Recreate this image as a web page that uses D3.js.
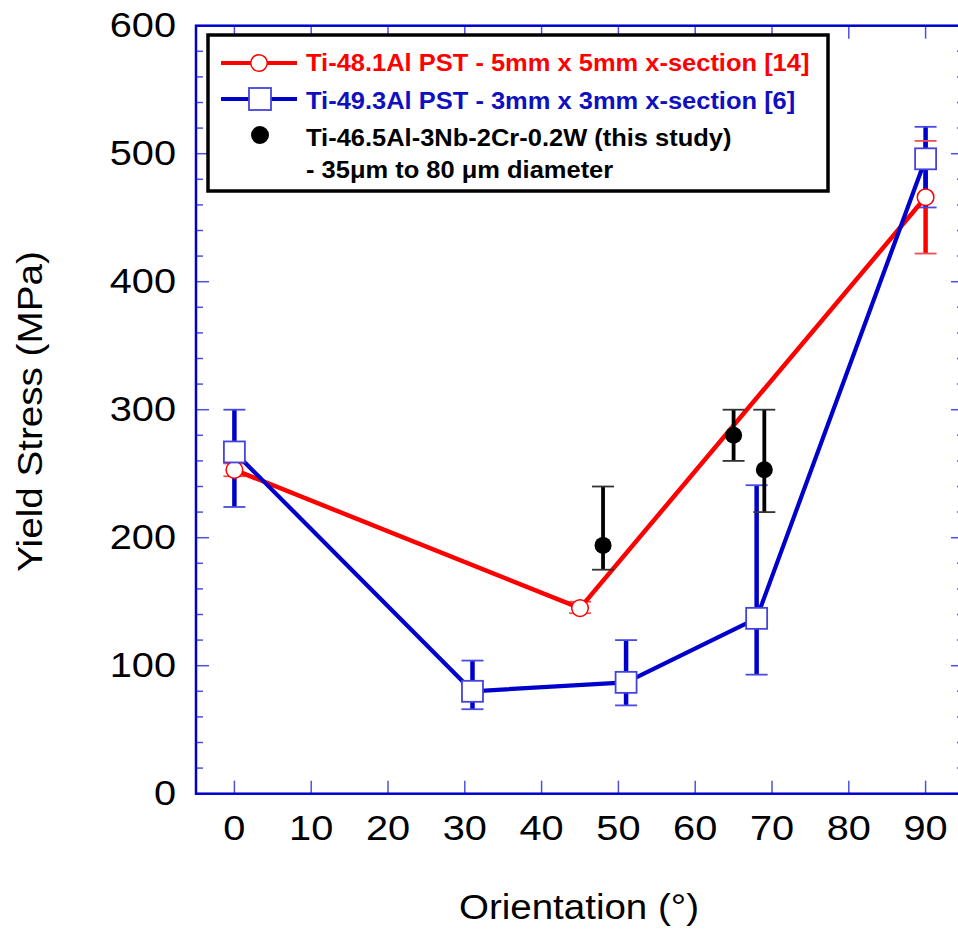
<!DOCTYPE html>
<html>
<head>
<meta charset="utf-8">
<script src="https://cdn.jsdelivr.net/npm/d3@7"></script>
<style>
html,body{margin:0;padding:0;background:#fff;}
svg{display:block;}
text{font-family:"Liberation Sans",Arial,Helvetica,sans-serif;}
</style>
</head>
<body>
<svg id="chart" width="958" height="930"></svg>
<script>
// ---------- data ----------
const xTickValues = [0,10,20,30,40,50,60,70,80,90];
const yTickValues = [0,100,200,300,400,500,600];
const yMinorValues = d3.range(0, 601, 20);

const redX  = [0, 45, 90];
const redY  = [253, 145, 466];
const redLo = [248, 141, 422];
const redHi = [258, 150, 510];

const blueX  = [0, 31, 51, 68, 90];
const blueY  = [267, 80, 87, 137, 496];
const blueLo = [224, 66, 69, 93, 458];
const blueHi = [300, 104, 120, 241, 521];

const blackX  = [48, 65, 69];
const blackY  = [194, 280, 253];
const blackLo = [175, 260, 220];
const blackHi = [240, 300, 300];

const legendLabels = [
  "Ti-48.1Al PST - 5mm x 5mm x-section [14]",
  "Ti-49.3Al PST - 3mm x 3mm x-section [6]",
  "Ti-46.5Al-3Nb-2Cr-0.2W (this study)",
  "- 35\u03bcm to 80 \u03bcm diameter"
];
const xTitle = "Orientation (\u00b0)";
const yTitle = "Yield Stress (MPa)";

// ---------- setup ----------
const RED = "#ff0000", BLUE = "#0000cc", TICK = "#5050dd";
const svg = d3.select("#chart");
const x = d3.scaleLinear().domain([-5, 95]).range([196, 964]);
const y = d3.scaleLinear().domain([0, 600]).range([793.7, 25.7]);

const zip = (xs, ys, lo, hi) => xs.map((v, i) => ({x: v, y: ys[i], lo: lo ? lo[i] : null, hi: hi ? hi[i] : null}));
const red = zip(redX, redY, redLo, redHi);
const blue = zip(blueX, blueY, blueLo, blueHi);
const black = zip(blackX, blackY, blackLo, blackHi);

// ---------- axes ticks ----------
const g = svg.append("g");
g.selectAll(".lmin").data(yMinorValues).join("line")
  .attr("x1", x(-5)).attr("x2", d => x(-5) + (d % 100 === 0 ? 13 : 7))
  .attr("y1", d => y(d)).attr("y2", d => y(d))
  .attr("stroke", TICK).attr("stroke-width", 1.5);
g.selectAll(".rmin").data(yMinorValues).join("line")
  .attr("x1", x(95)).attr("x2", d => x(95) - (d % 100 === 0 ? 13 : 7))
  .attr("y1", d => y(d)).attr("y2", d => y(d))
  .attr("stroke", TICK).attr("stroke-width", 1.5);
g.selectAll(".bt").data(xTickValues).join("line")
  .attr("x1", d => x(d)).attr("x2", d => x(d))
  .attr("y1", y(0)).attr("y2", y(0) - 13)
  .attr("stroke", TICK).attr("stroke-width", 1.5);
g.selectAll(".tt").data(xTickValues).join("line")
  .attr("x1", d => x(d)).attr("x2", d => x(d))
  .attr("y1", y(600)).attr("y2", y(600) + 13)
  .attr("stroke", TICK).attr("stroke-width", 1.5);
g.append("rect").attr("x", x(-5)).attr("y", y(600))
  .attr("width", x(95) - x(-5)).attr("height", y(0) - y(600))
  .attr("fill", "none").attr("stroke", BLUE).attr("stroke-width", 2.5);

// tick labels
const yl = svg.append("g").selectAll("g").data(yTickValues).join("g")
  .attr("transform", d => `translate(176,${y(d) + 11.5}) scale(1.12,1)`);
yl.append("text").attr("text-anchor", "end").attr("font-size", 35.5).attr("fill", "#000").text(d => d);
const xl = svg.append("g").selectAll("g").data(xTickValues).join("g")
  .attr("transform", d => `translate(${x(d)},840) scale(1.12,1)`);
xl.append("text").attr("text-anchor", "middle").attr("font-size", 35.5).attr("fill", "#000").text(d => d);

// titles
svg.append("g").attr("transform", "translate(579,919) scale(1.085,1)")
  .append("text").attr("text-anchor", "middle").attr("font-size", 35.5).text(xTitle);
svg.append("g").attr("transform", "translate(42,411.5) rotate(-90) scale(1.12,1)")
  .append("text").attr("text-anchor", "middle").attr("font-size", 34.5).text(yTitle);

// ---------- error bars ----------
function errBars(data, color, bw) {
  svg.append("g").selectAll("line").data(data).join("line")
    .attr("x1", d => x(d.x)).attr("x2", d => x(d.x))
    .attr("y1", d => y(d.lo)).attr("y2", d => y(d.hi))
    .attr("stroke", color).attr("stroke-width", bw);
}
function caps(data, capColor) {
  const cg = svg.append("g");
  ["lo", "hi"].forEach(k => {
    cg.selectAll("line." + k).data(data).join("line").attr("class", k)
      .attr("x1", d => x(d.x) - 11).attr("x2", d => x(d.x) + 11)
      .attr("y1", d => y(d[k])).attr("y2", d => y(d[k]))
      .attr("stroke", capColor).attr("stroke-width", 1.8);
  });
}
errBars(red, RED, 4.5);
errBars(blue, BLUE, 4.5);
caps(red, "#f05050");
caps(blue, "#4a4ae0");

// ---------- lines ----------
const line = d3.line().x(d => x(d.x)).y(d => y(d.y));
svg.append("path").datum(red).attr("d", line).attr("fill", "none")
  .attr("stroke", RED).attr("stroke-width", 4.5).attr("stroke-linejoin", "round");
svg.append("path").datum(blue).attr("d", line).attr("fill", "none")
  .attr("stroke", BLUE).attr("stroke-width", 4.2).attr("stroke-linejoin", "round");

// ---------- markers ----------
svg.append("g").selectAll("circle").data(red).join("circle")
  .attr("cx", d => x(d.x)).attr("cy", d => y(d.y)).attr("r", 8.3)
  .attr("fill", "#fff").attr("stroke", RED).attr("stroke-width", 1.5);
svg.append("g").selectAll("rect").data(blue).join("rect")
  .attr("x", d => x(d.x) - 10.5).attr("y", d => y(d.y) - 10.5)
  .attr("width", 21).attr("height", 21)
  .attr("fill", "#fff").attr("stroke", "#4444dd").attr("stroke-width", 1.8);

// black (this study)
errBars(black, "#000", 3.8);
caps(black, "#333");
svg.append("g").selectAll("circle").data(black).join("circle")
  .attr("cx", d => x(d.x)).attr("cy", d => y(d.y)).attr("r", 8.5)
  .attr("fill", "#000");

// ---------- legend ----------
const lg = svg.append("g");
lg.append("rect").attr("x", 208).attr("y", 35).attr("width", 620).attr("height", 156)
  .attr("fill", "#fff").attr("stroke", "#000").attr("stroke-width", 3.5);
lg.append("line").attr("x1", 221).attr("x2", 297).attr("y1", 63).attr("y2", 63)
  .attr("stroke", RED).attr("stroke-width", 4);
lg.append("circle").attr("cx", 259).attr("cy", 63).attr("r", 8.3)
  .attr("fill", "#fff").attr("stroke", RED).attr("stroke-width", 1.5);
lg.append("line").attr("x1", 221).attr("x2", 297).attr("y1", 99).attr("y2", 99)
  .attr("stroke", BLUE).attr("stroke-width", 4);
lg.append("rect").attr("x", 249).attr("y", 88).attr("width", 22).attr("height", 22)
  .attr("fill", "#fff").attr("stroke", "#4444dd").attr("stroke-width", 1.8);
lg.append("circle").attr("cx", 260).attr("cy", 135).attr("r", 9).attr("fill", "#000");

const legColors = [RED, "#1010c0", "#000", "#000"];
const legBase = [71, 109, 146, 178];
legendLabels.forEach((t, i) => {
  lg.append("g").attr("transform", `translate(306,${legBase[i]}) scale(1.04,1)`)
    .append("text").attr("font-size", 24.5).attr("font-weight", "bold")
    .attr("fill", legColors[i]).text(t);
});
</script>
</body>
</html>
